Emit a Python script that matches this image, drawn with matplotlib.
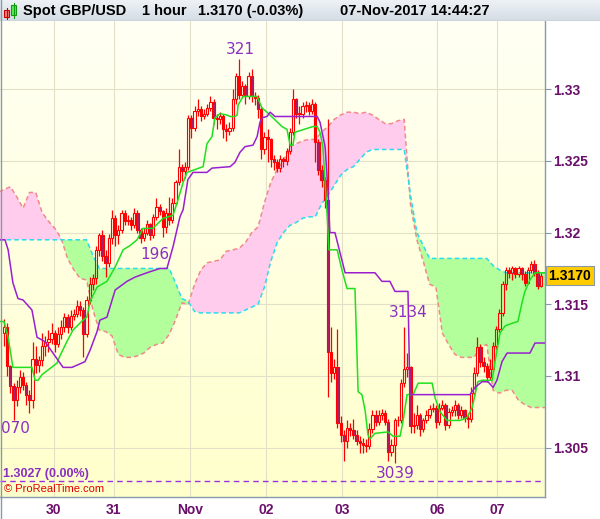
import numpy as np
import matplotlib
matplotlib.use("Agg")
import matplotlib.pyplot as plt
from matplotlib.colors import LinearSegmentedColormap
from matplotlib.patches import Rectangle

# hourly GBP/USD candles, 27-Oct .. 07-Nov-2017
closes = [1.3134, 1.3107, 1.3093, 1.3083, 1.3092, 1.3099, 1.3094, 1.3087, 1.3083, 1.3112,
          1.3108, 1.3111, 1.3121, 1.3124, 1.3126, 1.3130, 1.3122, 1.3129, 1.3134, 1.3141,
          1.3134, 1.3142, 1.3143, 1.3149, 1.3146, 1.3129, 1.3153, 1.3164, 1.3168, 1.3188,
          1.3198, 1.3184, 1.3179, 1.3196, 1.3210, 1.3198, 1.3202, 1.3214, 1.3208, 1.3209,
          1.3205, 1.3214, 1.3202, 1.3196, 1.3200, 1.3206, 1.3198, 1.3211, 1.3218, 1.3215,
          1.3204, 1.3214, 1.3209, 1.3221, 1.3235, 1.3246, 1.3243, 1.3246, 1.3280, 1.3273,
          1.3285, 1.3286, 1.3281, 1.3283, 1.3287, 1.3291, 1.3280, 1.3279, 1.3281, 1.3272,
          1.3271, 1.3273, 1.3293, 1.3309, 1.3296, 1.3302, 1.3295, 1.3309, 1.3295, 1.3294,
          1.3286, 1.3258, 1.3267, 1.3265, 1.3251, 1.3249, 1.3245, 1.3251, 1.3250, 1.3257,
          1.3270, 1.3293, 1.3283, 1.3283, 1.3288, 1.3289, 1.3285, 1.3290, 1.3263, 1.3244,
          1.3237, 1.3223, 1.3117, 1.3102, 1.3106, 1.3067, 1.3059, 1.3055, 1.3064, 1.3062,
          1.3059, 1.3055, 1.3053, 1.3052, 1.3051, 1.3063, 1.3073, 1.3068, 1.3073, 1.3074,
          1.3068, 1.3047, 1.3052, 1.3069, 1.3069, 1.3095, 1.3105, 1.3106, 1.3065, 1.3066,
          1.3073, 1.3063, 1.3069, 1.3073, 1.3077, 1.3078, 1.3068, 1.3078, 1.3080, 1.3066,
          1.3075, 1.3076, 1.3080, 1.3073, 1.3076, 1.3071, 1.3070, 1.3088, 1.3102, 1.3120,
          1.3110, 1.3107, 1.3099, 1.3105, 1.3121, 1.3133, 1.3144, 1.3164, 1.3174, 1.3172,
          1.3175, 1.3171, 1.3175, 1.3171, 1.3165, 1.3174, 1.3178, 1.3172, 1.3163, 1.3170]
highs = [1.3140, 1.3137, 1.3108, 1.3095, 1.3097, 1.3104, 1.3103, 1.3096, 1.3090, 1.3124,
         1.3121, 1.3114, 1.3130, 1.3128, 1.3132, 1.3137, 1.3132, 1.3134, 1.3139, 1.3144,
         1.3143, 1.3146, 1.3147, 1.3153, 1.3152, 1.3148, 1.3156, 1.3169, 1.3171, 1.3191,
         1.3200, 1.3202, 1.3188, 1.3199, 1.3216, 1.3212, 1.3205, 1.3216, 1.3216, 1.3212,
         1.3211, 1.3217, 1.3216, 1.3203, 1.3203, 1.3209, 1.3207, 1.3213, 1.3224, 1.3220,
         1.3216, 1.3217, 1.3225, 1.3224, 1.3237, 1.3258, 1.3248, 1.3249, 1.3282, 1.3282,
         1.3288, 1.3293, 1.3288, 1.3286, 1.3290, 1.3295, 1.3293, 1.3283, 1.3284, 1.3283,
         1.3276, 1.3277, 1.3300, 1.3311, 1.3321, 1.3306, 1.3304, 1.3312, 1.3314, 1.3298,
         1.3296, 1.3288, 1.3270, 1.3272, 1.3266, 1.3254, 1.3251, 1.3254, 1.3253, 1.3259,
         1.3273, 1.3300, 1.3294, 1.3288, 1.3291, 1.3292, 1.3291, 1.3293, 1.3291, 1.3265,
         1.3247, 1.3239, 1.3279, 1.3134, 1.3112, 1.3133, 1.3072, 1.3062, 1.3069, 1.3067,
         1.3070, 1.3062, 1.3058, 1.3057, 1.3056, 1.3067, 1.3076, 1.3076, 1.3076, 1.3077,
         1.3076, 1.3070, 1.3056, 1.3071, 1.3072, 1.3098, 1.3134, 1.3116, 1.3107, 1.3074,
         1.3080, 1.3074, 1.3071, 1.3076, 1.3080, 1.3081, 1.3080, 1.3081, 1.3083, 1.3081,
         1.3078, 1.3079, 1.3083, 1.3081, 1.3079, 1.3077, 1.3074, 1.3092, 1.3106, 1.3127,
         1.3122, 1.3113, 1.3109, 1.3112, 1.3124, 1.3135, 1.3147, 1.3166, 1.3176, 1.3176,
         1.3177, 1.3176, 1.3177, 1.3176, 1.3173, 1.3176, 1.3180, 1.3181, 1.3174, 1.3172]
lows = [1.3121, 1.3100, 1.3088, 1.3069, 1.3079, 1.3088, 1.3090, 1.3080, 1.3074, 1.3078,
        1.3102, 1.3103, 1.3107, 1.3114, 1.3117, 1.3122, 1.3117, 1.3120, 1.3126, 1.3131,
        1.3130, 1.3132, 1.3139, 1.3141, 1.3142, 1.3113, 1.3127, 1.3150, 1.3160, 1.3164,
        1.3184, 1.3180, 1.3169, 1.3176, 1.3192, 1.3191, 1.3192, 1.3200, 1.3205, 1.3205,
        1.3202, 1.3203, 1.3200, 1.3193, 1.3194, 1.3198, 1.3195, 1.3196, 1.3209, 1.3212,
        1.3197, 1.3200, 1.3205, 1.3207, 1.3219, 1.3233, 1.3236, 1.3238, 1.3244, 1.3266,
        1.3271, 1.3281, 1.3278, 1.3279, 1.3281, 1.3285, 1.3276, 1.3272, 1.3276, 1.3266,
        1.3264, 1.3268, 1.3271, 1.3290, 1.3293, 1.3294, 1.3290, 1.3293, 1.3291, 1.3289,
        1.3280, 1.3251, 1.3255, 1.3249, 1.3246, 1.3244, 1.3242, 1.3242, 1.3246, 1.3247,
        1.3255, 1.3268, 1.3280, 1.3276, 1.3280, 1.3284, 1.3282, 1.3283, 1.3249, 1.3240,
        1.3232, 1.3217, 1.3085, 1.3096, 1.3098, 1.3064, 1.3054, 1.3041, 1.3050, 1.3058,
        1.3056, 1.3052, 1.3046, 1.3046, 1.3047, 1.3049, 1.3060, 1.3065, 1.3066, 1.3069,
        1.3066, 1.3041, 1.3044, 1.3039, 1.3065, 1.3067, 1.3092, 1.3099, 1.3060, 1.3060,
        1.3063, 1.3058, 1.3061, 1.3067, 1.3071, 1.3075, 1.3064, 1.3066, 1.3076, 1.3062,
        1.3064, 1.3072, 1.3072, 1.3070, 1.3071, 1.3068, 1.3064, 1.3068, 1.3086, 1.3100,
        1.3106, 1.3103, 1.3096, 1.3097, 1.3103, 1.3119, 1.3131, 1.3142, 1.3160, 1.3168,
        1.3167, 1.3168, 1.3169, 1.3167, 1.3163, 1.3164, 1.3172, 1.3170, 1.3161, 1.3162]
first_open = 1.3130
opens = [first_open] + closes[:-1]

# ichimoku lines as (bar index, price) vertices
tenkan_x = [-1.3, 0, 1.3, 2.8, 8.8, 9.8, 10.7, 12.0, 16.7, 17.6, 19.8, 21.7, 24.9, 26.1, 27.1,
            29.3, 32.4, 35.0, 37.5, 39.7, 41.9, 43.8, 46.9, 50.1, 53.2, 54.8, 56.4, 57.6, 62.7,
            63.9, 65.5, 66.4, 68.0, 70.2, 71.2, 72.7, 73.4, 73.7, 75.3, 79.7, 81.2, 82.8, 84.7,
            87.5, 89.1, 90.1, 91.0, 91.6, 97.3, 98.6, 99.5, 100.4, 101.7, 102.3, 104.9, 106.4,
            108.0, 110.5, 111.5, 112.7, 113.7, 114.6, 115.2, 116.8, 120.9, 122.5, 124.7, 125.6,
            126.9, 128.8, 130.4, 134.8, 135.7, 137.3, 139.5, 143.6, 145.8, 147.4, 149.2, 150.5,
            153.7, 154.6, 156.2, 157.8, 160.3, 161.8, 163.1, 164.0, 165.6, 167.2, 170.4]
tenkan_y = [1.3138, 1.3138, 1.3127, 1.3106, 1.3106, 1.3097, 1.3097, 1.3101, 1.3109, 1.3114,
            1.3124, 1.3132, 1.3139, 1.3141, 1.3152, 1.3162, 1.3166, 1.3176, 1.3188, 1.3191,
            1.3195, 1.3203, 1.3203, 1.3210, 1.3212, 1.3223, 1.3235, 1.3242, 1.3246, 1.3262,
            1.3267, 1.3280, 1.3283, 1.3282, 1.3281, 1.3281, 1.3282, 1.3289, 1.3295, 1.3295,
            1.3287, 1.3284, 1.3280, 1.3274, 1.3272, 1.3261, 1.3261, 1.3270, 1.3274, 1.3274,
            1.3270, 1.3260, 1.3214, 1.3188, 1.3188, 1.3174, 1.3161, 1.3161, 1.3089, 1.3087,
            1.3076, 1.3059, 1.3056, 1.3060, 1.3061, 1.3058, 1.3058, 1.3068, 1.3087, 1.3087,
            1.3095, 1.3095, 1.3085, 1.3075, 1.3069, 1.3069, 1.3071, 1.3078, 1.3096, 1.3097,
            1.3097, 1.3110, 1.3130, 1.3135, 1.3137, 1.3138, 1.3151, 1.3159, 1.3167, 1.3172,
            1.3172]
kijun_x = [-1.3, 0.3, 1.3, 2.8, 4.4, 6.0, 8.8, 10.4, 12.9, 15.1, 18.6, 21.4, 25.5, 27.1, 29.3,
           30.2, 32.4, 35.0, 37.5, 38.7, 41.3, 45.0, 49.1, 51.3, 53.2, 55.4, 56.4, 57.9, 59.5,
           63.9, 65.5, 71.2, 72.7, 74.3, 75.9, 78.4, 79.7, 80.6, 81.2, 82.8, 83.8, 85.3, 98.6,
           99.5, 101.1, 102.0, 102.6, 104.2, 105.8, 107.4, 116.8, 119.0, 121.5, 123.1, 127.2,
           127.8, 146.7, 148.3, 150.5, 152.4, 154.0, 155.2, 156.8, 158.4, 165.6, 167.2, 170.4]
kijun_y = [1.3195, 1.3195, 1.3188, 1.3165, 1.3154, 1.3153, 1.3146, 1.3127, 1.3124, 1.3117,
           1.3106, 1.3106, 1.3110, 1.3118, 1.3131, 1.3139, 1.3141, 1.3160, 1.3164, 1.3166,
           1.3169, 1.3172, 1.3175, 1.3175, 1.3190, 1.3211, 1.3216, 1.3237, 1.3242, 1.3242,
           1.3245, 1.3246, 1.3249, 1.3256, 1.3260, 1.3261, 1.3267, 1.3277, 1.3280, 1.3281,
           1.3284, 1.3281, 1.3281, 1.3277, 1.3260, 1.3230, 1.3200, 1.3200, 1.3186, 1.3172,
           1.3172, 1.3166, 1.3166, 1.3159, 1.3159, 1.3087, 1.3087, 1.3092, 1.3096, 1.3096,
           1.3092, 1.3097, 1.3110, 1.3116, 1.3116, 1.3123, 1.3123]

# cloud spans, one value every second bar starting at bar -2
span_b = ([1.3195] * 15 + [1.3184] + [1.3175] * 12 + [1.3165, 1.3154, 1.3152, 1.3145]
          + [1.3144] * 7
          + [1.3146, 1.3148, 1.3150, 1.3162, 1.3180, 1.3193, 1.3200, 1.3205, 1.3207, 1.3210,
             1.3211, 1.3211]
          + [1.3220, 1.3226, 1.3233, 1.3240, 1.3244, 1.3246, 1.3251, 1.3256]
          + [1.3258] * 6 + [1.3226, 1.3200, 1.3191] + [1.3182] * 10 + [1.3177, 1.3174]
          + [1.3172] * 8)
span_a = [1.3228, 1.3230, 1.3232, 1.3225, 1.3217, 1.3228, 1.3228, 1.3214, 1.3208, 1.3203,
          1.3196, 1.3182, 1.3174, 1.3168, 1.3167, 1.3146, 1.3132, 1.3131, 1.3128, 1.3115,
          1.3113, 1.3113, 1.3114, 1.3116, 1.3120, 1.3122, 1.3123, 1.3129, 1.3139, 1.3151,
          1.3150, 1.3164, 1.3174, 1.3179, 1.3180, 1.3181, 1.3187, 1.3188, 1.3189, 1.3193,
          1.3200, 1.3204, 1.3221, 1.3235, 1.3244, 1.3250, 1.3260, 1.3262, 1.3264, 1.3265,
          1.3265, 1.3270, 1.3274, 1.3279, 1.3282, 1.3284, 1.3284, 1.3283, 1.3284, 1.3282,
          1.3279, 1.3276, 1.3276, 1.3278, 1.3279, 1.3219, 1.3195, 1.3180, 1.3164, 1.3162,
          1.3130, 1.3122, 1.3115, 1.3113, 1.3113, 1.3113, 1.3120, 1.3122, 1.3090, 1.3088,
          1.3090, 1.3090, 1.3083, 1.3080, 1.3078, 1.3078, 1.3078, 1.3078]

price_ticks = [1.305, 1.31, 1.315, 1.32, 1.325, 1.33]
price_labels = ['1.305', '1.31', '1.315', '1.32', '1.325', '1.33']
day_pos = [15.7, 34.6, 58.6, 82.5, 106.4, 136.3, 155.2]
day_labels = ['30', '31', 'Nov', '02', '03', '06', '07']
last_price = 1.3170
ref_price = 1.3027

purple = '#6a0f6a'
W, H = 600, 519

fig = plt.figure(figsize=(W / 100, H / 100), dpi=100)
fig.patch.set_facecolor('white')

ax = fig.add_axes([0, 22 / H, 545 / W, 476 / H])
xlim = (-1.26, 170.34)
ylim = (1.30156, 1.33476)

# pale yellow background
bg = LinearSegmentedColormap.from_list('bg', ['#fffff4', '#ffffcc'])
ax.imshow(np.linspace(0, 1, 200).reshape(-1, 1), cmap=bg, aspect='auto',
          extent=[xlim[0], xlim[1], ylim[0], ylim[1]], origin='upper', zorder=0)

# cloud
sx = np.arange(-2, 173, 2)
sa = np.array(span_a)
sb = np.array(span_b)
ax.fill_between(sx, sb, sa, where=sb >= sa, interpolate=True, color='#b2ff9c', lw=0, zorder=1)
ax.fill_between(sx, sb, sa, where=sb < sa, interpolate=True, color='#ffccee', lw=0, zorder=1)
ax.plot(sx, sa, color='#f08a8a', lw=1.1, ls=(0, (3, 2)), zorder=2)
ax.plot(sx, sb, color='#2adcec', lw=1.1, ls=(0, (3, 2)), zorder=2)

# candles
idx = np.arange(len(closes))
o = np.array(opens)
c = np.array(closes)
hi = np.array(highs)
lo = np.array(lows)
top = np.maximum(o, c)
bot = np.minimum(o, c)
ax.vlines(idx, top, hi, color='red', lw=0.9, zorder=3)
ax.vlines(idx, lo, bot, color='red', lw=0.9, zorder=3)
up = c >= o
body = np.maximum(top - bot, 0.00003)
ax.bar(idx[up], body[up], bottom=bot[up], width=0.72, facecolor='none',
       edgecolor='red', linewidth=0.8, zorder=4)
ax.bar(idx[~up], body[~up], bottom=bot[~up], width=0.72, facecolor='#a3206e',
       edgecolor='red', linewidth=0.8, zorder=4)

# tenkan / kijun
ax.plot(tenkan_x, tenkan_y, color='#1fe01f', lw=1.1, zorder=5)
ax.plot(kijun_x, kijun_y, color='#9a1fd0', lw=1.1, zorder=5)

ax.axhline(ref_price, color='#9b30e0', lw=1.0, ls=(0, (4, 3)), zorder=5)

ax.set_xlim(*xlim)
ax.set_ylim(*ylim)
ax.set_axisbelow(True)
ax.grid(True, color='#e3e0c8', lw=0.8)

ax.yaxis.tick_right()
ax.set_yticks(price_ticks)
ax.set_yticklabels(price_labels)
ax.set_xticks(day_pos)
ax.set_xticklabels(day_labels)
ax.tick_params(axis='y', length=4, width=0.8, color='#8899aa', pad=2, labelsize=10,
               labelcolor=purple)
ax.tick_params(axis='x', length=0, pad=4.5, labelsize=10, labelcolor=purple)
for lab in ax.get_xticklabels() + ax.get_yticklabels():
    lab.set_fontweight('bold')
    lab.set_family('Liberation Sans')
for s in ['left', 'top']:
    ax.spines[s].set_visible(False)
for s in ['right', 'bottom']:
    ax.spines[s].set_color('#8899aa')
    ax.spines[s].set_linewidth(1.0)

# high/low markers
mark = dict(color='#8a2fc0', fontsize=11, family='DejaVu Sans', ha='center',
            va='center', zorder=6, clip_on=True)
ax.text(-0.95, 1.30637, '070', **{**mark, 'ha': 'left'})
ax.text(47.5, 1.31844, '196', **mark)
ax.text(74.3, 1.33274, '321', **mark)
ax.text(127.2, 1.31440, '3134', **mark)
ax.text(123.1, 1.30317, '3039', **mark)

ax.text(0.005, 1.30317, '1.3027 (0.00%)', color='#8a2fc0', fontsize=9,
        fontweight='bold', family='Liberation Sans', transform=ax.get_yaxis_transform(),
        va='center', zorder=6)
ax.text(0.007, 1.30212, '\u00a9 ProRealTime.com', color='#e00000', fontsize=8,
        family='Liberation Sans', transform=ax.get_yaxis_transform(), va='center', zorder=6)

# last price tag
ax.text(1.006, last_price, '1.3170', transform=ax.get_yaxis_transform(), ha='left',
        va='center', fontsize=10, fontweight='bold', family='Liberation Sans', color='black',
        bbox=dict(boxstyle='square,pad=0.18', fc='#ffcc00', ec='#8899aa', lw=0.8),
        clip_on=False, zorder=7)

# header bar
hax = fig.add_axes([0, (H - 21) / H, 1, 21 / H])
hdr = LinearSegmentedColormap.from_list('hdr', ['#eef2f6', '#d4dce4'])
hax.imshow(np.linspace(0, 1, 50).reshape(-1, 1), cmap=hdr, aspect='auto',
           extent=[0, 1, 0, 1], origin='upper')
hax.set_xlim(0, 1)
hax.set_ylim(0, 1)
hax.axis('off')
hax.axhline(0.02, color='#a8b4c0', lw=1)

fig.add_artist(Rectangle((4 / W, (H - 17) / H), 5 / W, 7 / H, transform=fig.transFigure,
                         fc='#f08080', ec='#cc0000', lw=0.8))
fig.add_artist(Rectangle((11 / W, (H - 15) / H), 5 / W, 10 / H, transform=fig.transFigure,
                         fc='#55ee55', ec='#119911', lw=0.8))
fig.add_artist(plt.Line2D([6.5 / W, 6.5 / W], [(H - 19) / H, (H - 8) / H],
                          transform=fig.transFigure, color='#cc0000', lw=0.8))
fig.add_artist(plt.Line2D([13.5 / W, 13.5 / W], [(H - 18) / H, (H - 3) / H],
                          transform=fig.transFigure, color='#119911', lw=0.8))

head = dict(fontsize=10.5, fontweight='bold', family='Liberation Sans', color='black',
            va='center', ha='left')
yh = (H - 11) / H
fig.text(23 / W, yh, 'Spot GBP/USD', **head)
fig.text(142 / W, yh, '1 hour', **head)
fig.text(198 / W, yh, '1.3170 (-0.03%)', **head)
fig.text(340 / W, yh, '07-Nov-2017 14:44:27', **head)

# outer frame
fig.add_artist(plt.Line2D([0.5 / W, 0.5 / W], [0, 1], transform=fig.transFigure,
                          color='#8899aa', lw=1))

fig.savefig('out.png', dpi=100)
